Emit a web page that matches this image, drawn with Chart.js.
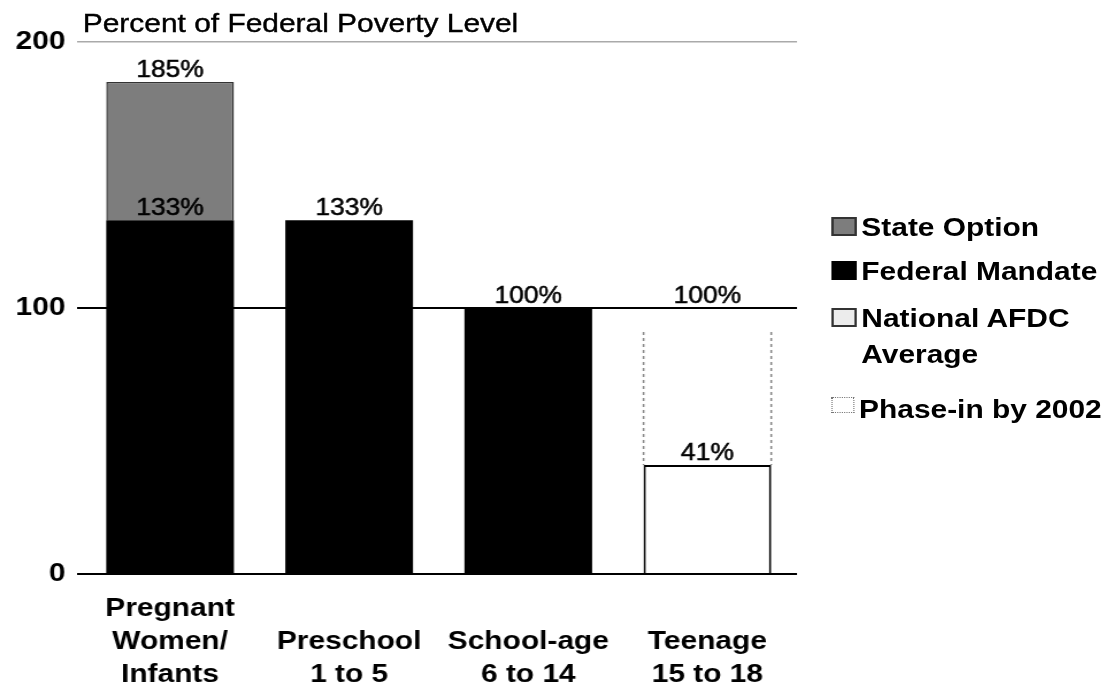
<!DOCTYPE html>
<html>
<head>
<meta charset="utf-8">
<script src="https://cdn.jsdelivr.net/npm/chart.js@4/dist/chart.umd.min.js"></script>
<style>
    html, body { margin: 0; padding: 0; background: #fff; overflow: hidden; }
    /* the reference is stretched sideways, so the whole stage is too */
    #stage {
        position: absolute; left: 0; top: 0;
        width: 962px; height: 689px;
        transform: scaleX(1.15); transform-origin: 0 0;
        font-family: "Liberation Sans", Arial, sans-serif; color: #000;
    }
    #chartBox { position: absolute; left: 0; top: 0; width: 700px; height: 689px; }
    #title {
        position: absolute; left: 72px; top: 10px;
        font-size: 26px; line-height: 26px; white-space: nowrap;
        -webkit-text-stroke: 0.4px #000;
    }
    #legend { position: absolute; left: 723px; top: 209px; }
    .item { display: flex; align-items: flex-start; }
    .box { width: 22px; height: 19px; box-sizing: border-box; margin-top: 8px; margin-right: 4px; flex: none; }
    .text { font-size: 26px; font-weight: bold; line-height: 36px; white-space: nowrap; }
</style>
</head>
<body>
<div id="stage">
    <div id="chartBox"><canvas id="chart"></canvas></div>
    <div id="title">Percent of Federal Poverty Level</div>
    <div id="legend"></div>
</div>
<script>
// Categories (bottom axis, lines padded at the top so they sit at the bottom)
const categories = [
    ['Pregnant', 'Women/', 'Infants'],
    ['', 'Preschool', '1 to 5'],
    ['', 'School-age', '6 to 14'],
    ['', 'Teenage', '15 to 18']
];

// Series values (percent of federal poverty level, stacked)
const federalMandate = [133, 133, 100, null];
const stateOption = [52, null, null, null];      // 133 -> 185
const nationalAfdc = [null, null, null, 41];
const phaseIn = [null, null, null, 50];           // dotted sides, 41 -> ~91

// Value labels written over the bars
const labelCategory = [0, 0, 1, 2, 3, 3];
const labelValue = [185, 133, 133, 100, 100, 41];

// Axis ticks
const yTicks = [0, 100, 200];

// Legend entries
const legendNames = ['State Option', 'Federal Mandate', 'National AFDC<br>Average', 'Phase-in by 2002'];
const legendStyles = [
    'background:#7d7d7d;border:2px solid #333;',
    'background:#000;',
    'background:#ececec;border:2px solid #333;',
    'background:#fff;border:1.5px dotted #777;width:20px;height:16px;margin-top:6px;'
];
const legendGaps = [8, 11, 19, 0];

const FONT = '"Liberation Sans", Arial, sans-serif';

// Legend (html, so the two-line entry can wrap)
const legendEl = document.getElementById('legend');
legendNames.forEach((name, i) => {
    const item = document.createElement('div');
    item.className = 'item';
    item.style.marginBottom = legendGaps[i] + 'px';
    item.innerHTML = `<div class="box" style="${legendStyles[i]}"></div><div class="text">${name}</div>`;
    legendEl.appendChild(item);
});

// Writes the percent labels above each value
const valueLabels = {
    id: 'valueLabels',
    afterDatasetsDraw(chart) {
        const ctx = chart.ctx;
        const x = chart.scales.x;
        const y = chart.scales.y;
        ctx.save();
        ctx.font = `23px ${FONT}`;
        ctx.fillStyle = '#000';
        ctx.strokeStyle = '#000';
        ctx.lineWidth = 0.5;
        ctx.textAlign = 'center';
        ctx.textBaseline = 'alphabetic';
        labelValue.forEach((v, i) => {
            const px = x.getPixelForValue(labelCategory[i]);
            const py = y.getPixelForValue(v) - 5;
            ctx.fillText(v + '%', px, py);
            ctx.strokeText(v + '%', px, py);
        });
        ctx.restore();
    }
};

// Dotted sides of the phase-in bar
const phaseInSides = {
    id: 'phaseInSides',
    afterDatasetsDraw(chart) {
        const meta = chart.getDatasetMeta(3);
        const ctx = chart.ctx;
        ctx.save();
        ctx.strokeStyle = '#888';
        ctx.lineWidth = 1.5;
        ctx.setLineDash([3, 3]);
        meta.data.forEach((bar, i) => {
            if (phaseIn[i] == null) return;
            const p = bar.getProps(['x', 'y', 'base', 'width'], true);
            [p.x - p.width / 2, p.x + p.width / 2].forEach(px => {
                ctx.beginPath();
                ctx.moveTo(px, p.y);
                ctx.lineTo(px, p.base);
                ctx.stroke();
            });
        });
        ctx.restore();
    }
};

new Chart(document.getElementById('chart'), {
    type: 'bar',
    data: {
        labels: categories,
        datasets: [
            { label: 'Federal Mandate', data: federalMandate, backgroundColor: '#000', borderWidth: 0 },
            { label: 'State Option', data: stateOption, backgroundColor: '#7d7d7d', borderColor: '#333', borderWidth: 1.5 },
            { label: 'National AFDC Average', data: nationalAfdc, backgroundColor: '#fff', borderColor: '#000', borderWidth: 2 },
            { label: 'Phase-in by 2002', data: phaseIn, backgroundColor: 'rgba(0,0,0,0)', borderWidth: 0 }
        ]
    },
    options: {
        responsive: true,
        maintainAspectRatio: false,
        animation: false,
        barPercentage: 0.713,
        categoryPercentage: 1,
        layout: { padding: { top: 42, right: 7, left: 0, bottom: 0 } },
        plugins: {
            legend: { display: false },
            tooltip: { enabled: false }
        },
        scales: {
            x: {
                stacked: true,
                grid: { display: false },
                border: { display: false },
                ticks: {
                    color: '#000',
                    font: { family: FONT, size: 26, weight: 'bold', lineHeight: 1.27 },
                    padding: 10,
                    maxRotation: 0,
                    autoSkip: false
                },
                afterFit(scale) { scale.height = 115; }
            },
            y: {
                stacked: true,
                min: 0,
                max: 200,
                afterBuildTicks(scale) { scale.ticks = yTicks.map(v => ({ value: v })); },
                ticks: {
                    color: '#000',
                    font: { family: FONT, size: 26, weight: 'bold' },
                    padding: 10
                },
                grid: {
                    color: ctx => ctx.tick && ctx.tick.value === 200 ? '#aaa' : '#000',
                    lineWidth: ctx => ctx.tick && ctx.tick.value === 200 ? 1.5 : 2,
                    tickLength: 3
                },
                border: { display: false },
                afterFit(scale) { scale.width = 70; }
            }
        }
    },
    plugins: [valueLabels, phaseInSides]
});
</script>
</body>
</html>
